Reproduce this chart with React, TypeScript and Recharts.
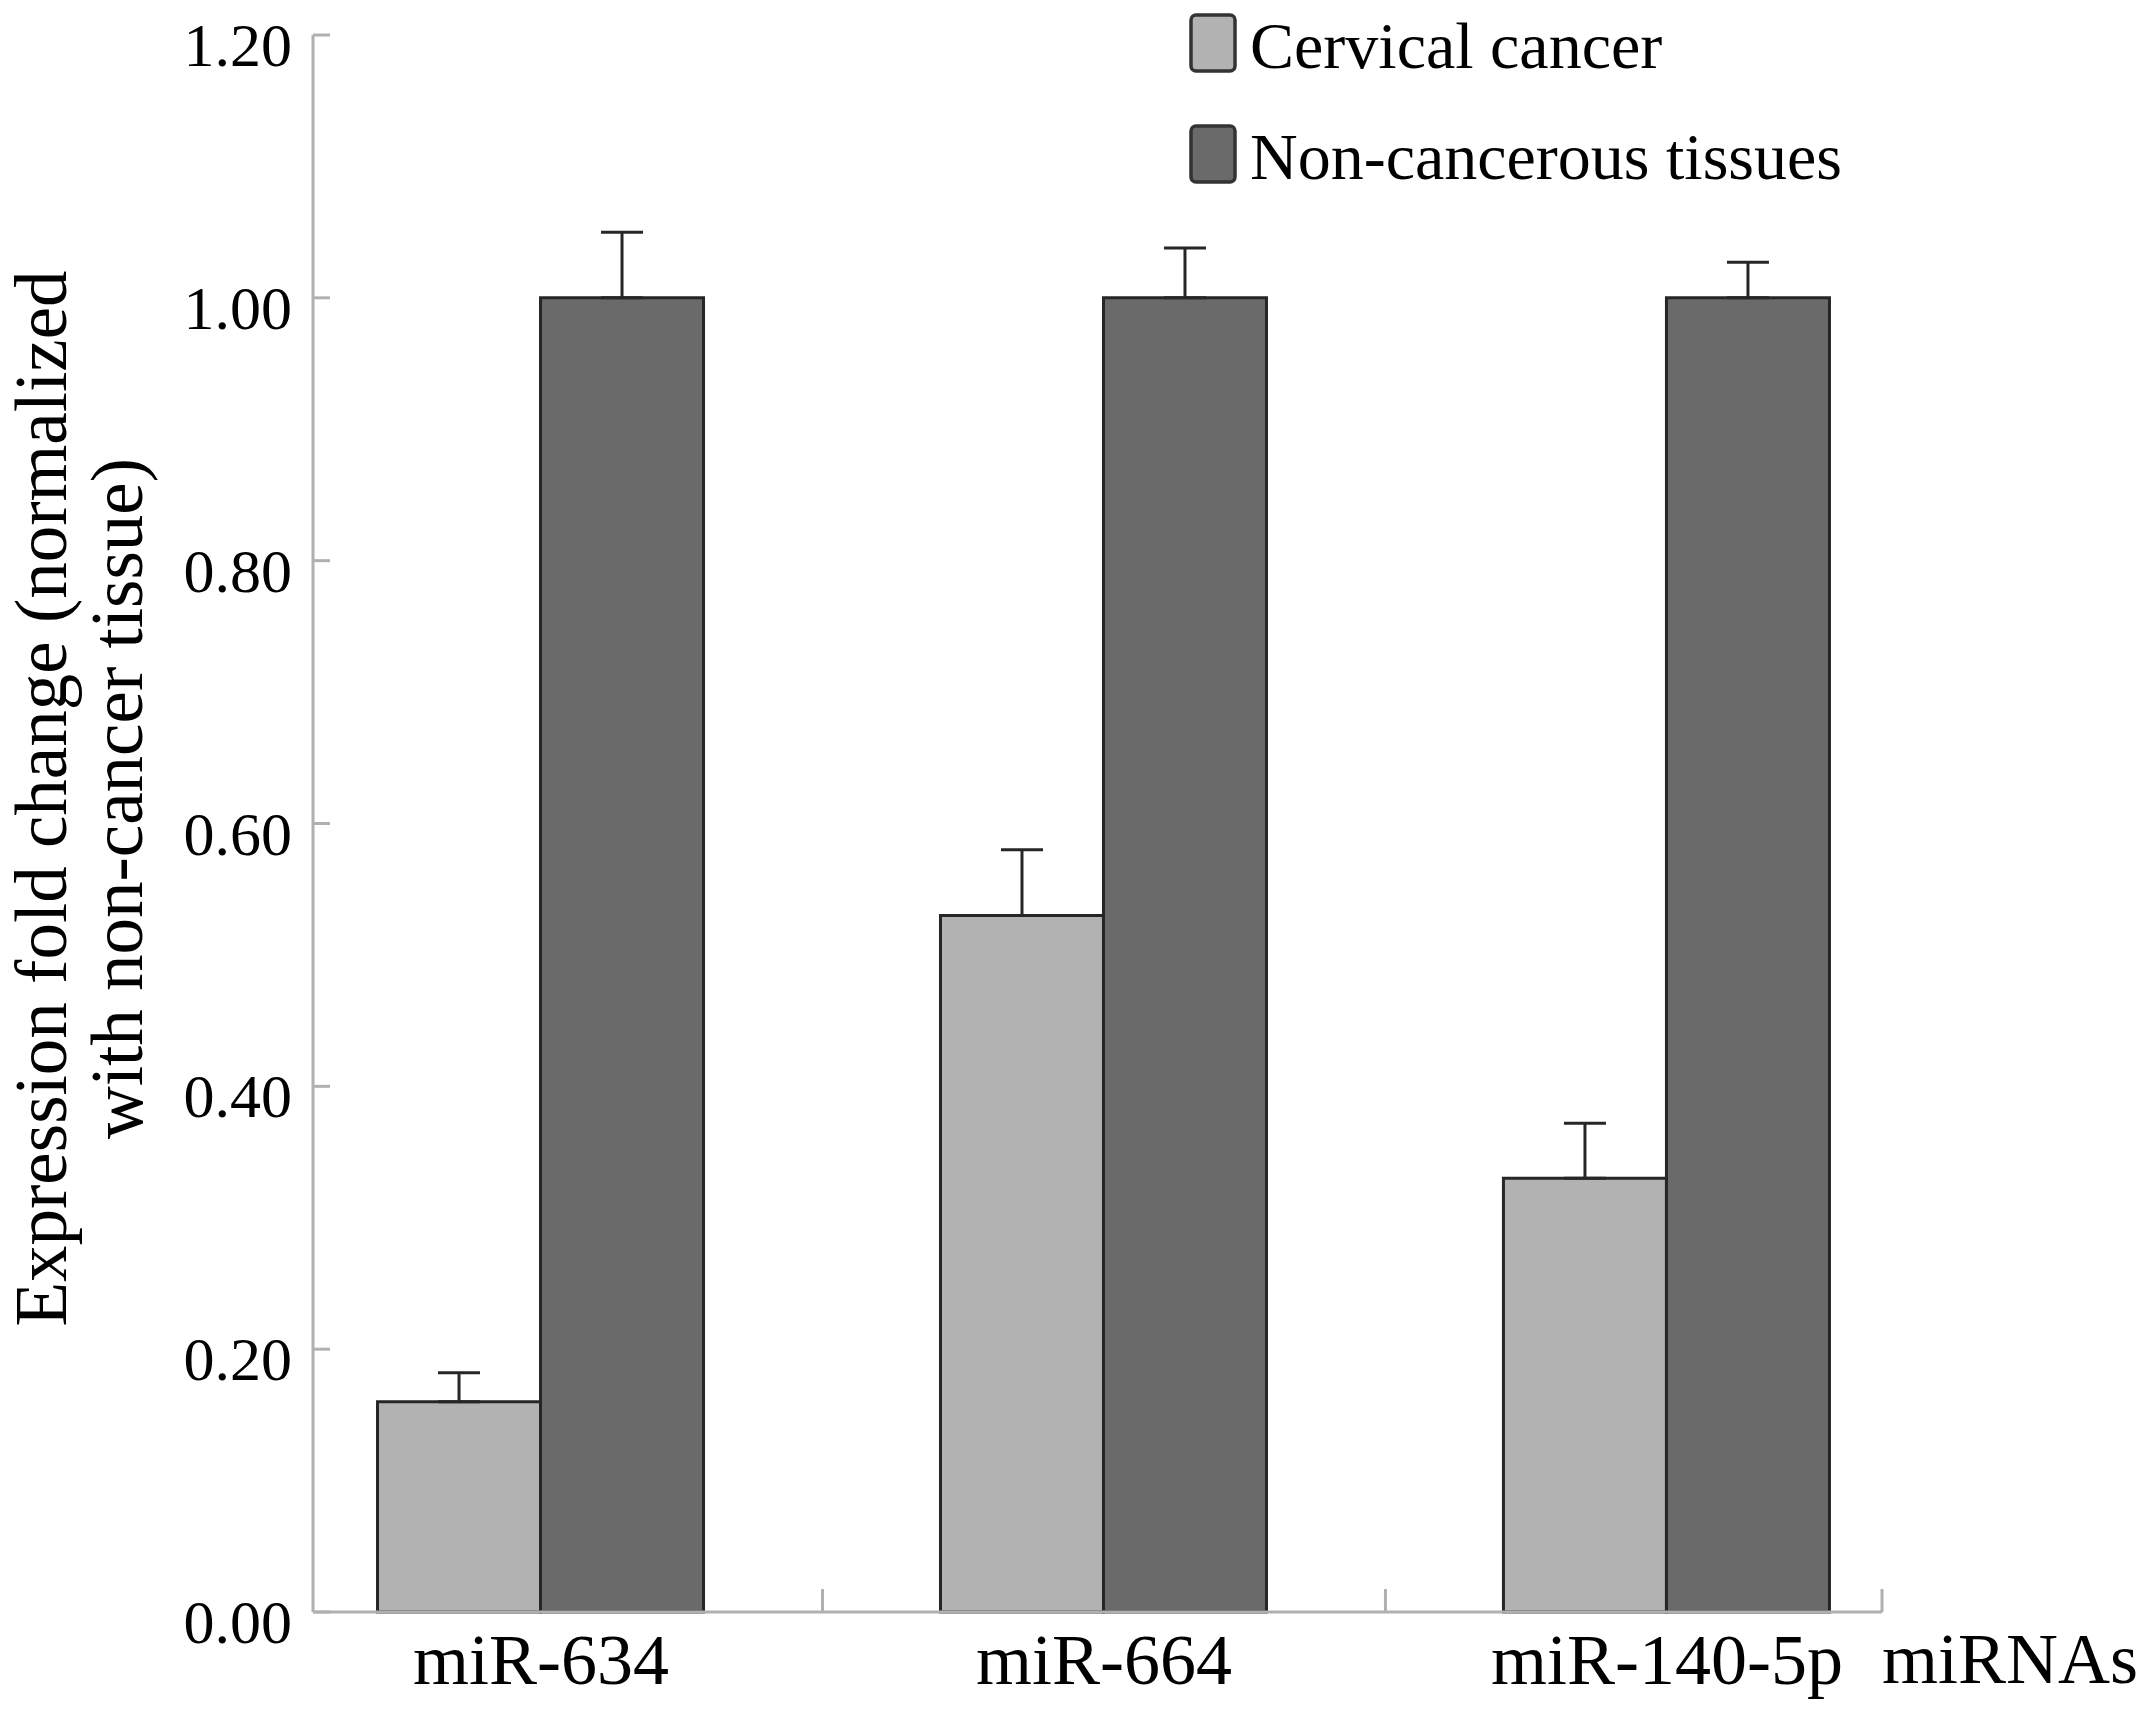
import { Bar, BarChart, ErrorBar, Legend, XAxis, YAxis } from "recharts";

const categories = ["miR-634", "miR-664", "miR-140-5p"];
const cervical = [0.16, 0.53, 0.33];
const cervicalErr = [0.022, 0.05, 0.042];
const nonCancer = [1.0, 1.0, 1.0];
const nonCancerErr = [0.05, 0.038, 0.027];
const yTicks = [0, 0.2, 0.4, 0.6, 0.8, 1.0, 1.2];
// category slots sit on 0,1,2; the axis is cut short on both sides
const xDomain: [number, number] = [-0.405, 2.382];
const xTicks = [0, 0.5, 1, 1.5, 2, 2.382];

const data = categories.map((name, i) => ({
  x: i,
  name,
  cervical: cervical[i],
  cervicalErr: [0, cervicalErr[i]],
  nonCancer: nonCancer[i],
  nonCancerErr: [0, nonCancerErr[i]],
}));

const FONT = "'Liberation Serif', 'Times New Roman', serif";
const AXIS = "#b0b0b0";
const EDGE = "#262626";

function XTick({ x, y, payload }: any) {
  const v = payload.value;
  if (Number.isInteger(v)) {
    return (
      <text x={x} y={y + 72} textAnchor="middle" fontSize={72} fontFamily={FONT} fill="#000">
        {categories[v]}
      </text>
    );
  }
  return <line x1={x} x2={x} y1={y} y2={y - 23} stroke={AXIS} strokeWidth={3} />;
}

function YTick({ x, y, payload }: any) {
  return (
    <g>
      <line x1={x} x2={x + 17} y1={y} y2={y} stroke={AXIS} strokeWidth={3} />
      <text x={x - 21} y={y + 31} textAnchor="end" fontSize={62} fontFamily={FONT} fill="#000">
        {payload.value.toFixed(2)}
      </text>
    </g>
  );
}

function YLabel({ viewBox }: any) {
  const cy = viewBox.y + viewBox.height / 2 - 25;
  const lines = ["Expression fold change (normalized", "with non-cancer tissue)"];
  return (
    <g>
      {lines.map((t, i) => {
        const lx = viewBox.x + 66 + i * 76;
        return (
          <text key={t} x={lx} y={cy} transform={`rotate(-90 ${lx} ${cy})`}
            textAnchor="middle" fontSize={73} fontFamily={FONT} fill="#000">
            {t}
          </text>
        );
      })}
    </g>
  );
}

function XLabel({ viewBox }: any) {
  return (
    <text x={viewBox.x + viewBox.width} y={viewBox.y + 71} fontSize={72} fontFamily={FONT} fill="#000">
      miRNAs
    </text>
  );
}

function LegendBox({ payload }: any) {
  return (
    <svg width={700} height={210} style={{ display: "block" }}>
      {(payload || []).map((p: any, i: number) => (
        <g key={p.value} transform={`translate(0, ${i * 111})`}>
          <rect x={2} y={15} width={44} height={56} rx={5} fill={p.color} stroke="#333" strokeWidth={3.5} />
          <text x={61} y={68} fontSize={66} fontFamily={FONT} fill="#000">
            {p.value}
          </text>
        </g>
      ))}
    </svg>
  );
}

export default function App() {
  return (
    <div style={{ position: "absolute", left: 0, top: 0, background: "#fff" }}>
      <BarChart width={2150} height={1711} data={data} barGap={0}
        margin={{ top: 35, right: 268, left: 0, bottom: 0 }}>
        <XAxis dataKey="x" type="number" domain={xDomain} allowDataOverflow ticks={xTicks}
          interval={0} height={99} tickSize={0} tickMargin={0} tick={<XTick />}
          axisLine={{ stroke: AXIS, strokeWidth: 3 }} tickLine={false}
          label={(props: any) => <XLabel {...props} />} />
        <YAxis domain={[0, 1.2]} ticks={yTicks} width={313} tickSize={0} tickMargin={0}
          tick={<YTick />} axisLine={{ stroke: AXIS, strokeWidth: 3 }} tickLine={false}
          label={(props: any) => <YLabel {...props} />} />
        <Legend layout="vertical" align="center" verticalAlign="middle"
          content={(props: any) => <LegendBox {...props} />}
          wrapperStyle={{ position: "absolute", left: 1189, top: 0, width: 700 }} />
        <Bar dataKey="cervical" name="Cervical cancer" fill="#b2b2b2" stroke={EDGE} strokeWidth={3}
          barSize={163} isAnimationActive={false}>
          <ErrorBar dataKey="cervicalErr" direction="y" width={21} stroke={EDGE} strokeWidth={3} />
        </Bar>
        <Bar dataKey="nonCancer" name="Non-cancerous tissues" fill="#6a6a6a" stroke={EDGE} strokeWidth={3}
          barSize={163} isAnimationActive={false}>
          <ErrorBar dataKey="nonCancerErr" direction="y" width={21} stroke={EDGE} strokeWidth={3} />
        </Bar>
      </BarChart>
    </div>
  );
}
